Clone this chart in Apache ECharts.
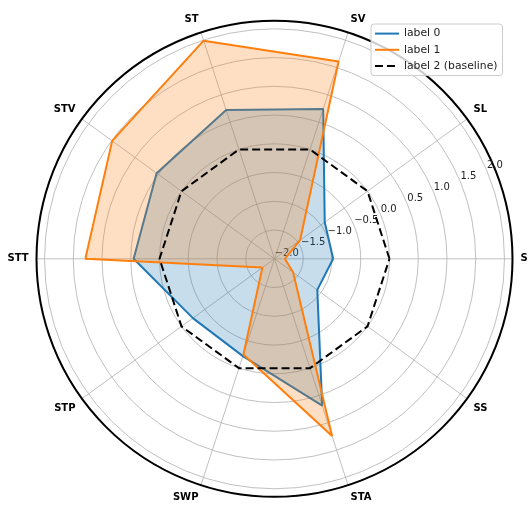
<!DOCTYPE html>
<html>
<head>
<meta charset="utf-8">
<script src="https://cdn.jsdelivr.net/npm/echarts@6/dist/echarts.min.js"></script>
<style>
html,body{margin:0;padding:0;background:#fff;}
#chart{width:529px;height:508px;}
</style>
</head>
<body>
<div id="chart"></div>
<script>
const categories = ['S', 'SL', 'SV', 'ST', 'STV', 'STT', 'STP', 'SWP', 'STA', 'SS'];
const label0 = [-0.98, -0.92, 0.74, 0.72, 0.535, 0.45, -0.245, -0.22, 0.685, -1.08];
const label1 = [-1.82, -1.45, 1.61, 1.99, 1.49, 1.29, -1.74, -0.25, 1.24, -1.60];
const baseline = [0, 0, 0, 0, 0, 0, 0, 0, 0, 0];
const seriesNames = ['label 0', 'label 1', 'label 2 (baseline)'];
const rMin = -2.0, rMax = 2.14, rStep = 0.5;
const angleStep = 360 / categories.length;

function closed(vals) {
  const d = vals.map((v, i) => [v, i * angleStep]);
  d.push([vals[0], vals.length * angleStep]);
  return d;
}
const FONT = 'DejaVu Sans';
const chart = echarts.init(document.getElementById('chart'), null, {renderer: 'canvas'});
const center = [274.5, 258.8];
const radius = 238;
const radAxisBase = {
  type: 'value', min: rMin, max: rMax, interval: rStep
};
const option = {
  animation: false,
  backgroundColor: '#ffffff',
  polar: [
    {center: center, radius: radius},
    {center: center, radius: radius}
  ],
  angleAxis: [
    {
      polarIndex: 0, type: 'value', min: 0, max: 360, interval: angleStep,
      startAngle: 0, clockwise: false,
      axisLine: {show: true, lineStyle: {color: '#000', width: 2}},
      axisTick: {show: false},
      axisLabel: {
        show: true, color: '#000', fontSize: 10, fontWeight: 'bold', fontFamily: FONT, margin: 8,
        formatter: function (v) {
          const i = Math.round(v / angleStep);
          return i < categories.length ? categories[i] : '';
        }
      },
      splitLine: {show: true, lineStyle: {color: '#b0b0b0', width: 0.8}}
    },
    {
      polarIndex: 1, type: 'value', min: 0, max: 360, startAngle: 22.5, clockwise: false,
      show: false
    }
  ],
  radiusAxis: [
    Object.assign({}, radAxisBase, {
      polarIndex: 0,
      axisLine: {show: false}, axisTick: {show: false}, axisLabel: {show: false},
      splitLine: {show: true, lineStyle: {color: '#b0b0b0', width: 0.8}}
    }),
    Object.assign({}, radAxisBase, {
      polarIndex: 1,
      axisLine: {show: false}, axisTick: {show: false},
      splitLine: {show: false},
      axisLabel: {
        show: true, color: '#222', fontSize: 10, fontFamily: FONT, margin: 0,
        align: 'left', verticalAlign: 'bottom', showMinLabel: true, showMaxLabel: false,
        formatter: function (v) {
          if (Math.abs(v / rStep - Math.round(v / rStep)) > 1e-6) return '';
          return (v < 0 ? '\u2212' : '') + Math.abs(v).toFixed(1);
        }
      }
    })
  ],
  legend: {
    data: seriesNames,
    orient: 'vertical', left: 371, top: 24,
    itemWidth: 24, itemHeight: 14, itemGap: 5,
    padding: [4, 5, 4, 3],
    itemStyle: {opacity: 0, borderWidth: 0},
    backgroundColor: 'rgba(255,255,255,0.8)', borderColor: '#cccccc', borderWidth: 1, borderRadius: 3,
    textStyle: {fontSize: 10.8, fontFamily: FONT, color: '#222'}
  },
  series: [
    {
      name: seriesNames[0], type: 'line', coordinateSystem: 'polar', polarIndex: 0,
      data: closed(label0), symbol: 'none', smooth: false, clip: false,
      lineStyle: {color: '#1f77b4', width: 2},
      itemStyle: {color: '#1f77b4'},
      areaStyle: {color: '#1f77b4', opacity: 0.25, origin: 'start'}, z: 3
    },
    {
      name: seriesNames[1], type: 'line', coordinateSystem: 'polar', polarIndex: 0,
      data: closed(label1), symbol: 'none', smooth: false, clip: false,
      lineStyle: {color: '#ff7f0e', width: 2},
      itemStyle: {color: '#ff7f0e'},
      areaStyle: {color: '#ff7f0e', opacity: 0.25, origin: 'start'}, z: 4
    },
    {
      name: seriesNames[2], type: 'line', coordinateSystem: 'polar', polarIndex: 0,
      data: closed(baseline), symbol: 'none', smooth: false, clip: false,
      lineStyle: {color: '#000', width: 2, type: [8, 4]},
      itemStyle: {color: '#000'}, z: 5
    }
  ]
};
chart.setOption(option);
</script>
</body>
</html>
